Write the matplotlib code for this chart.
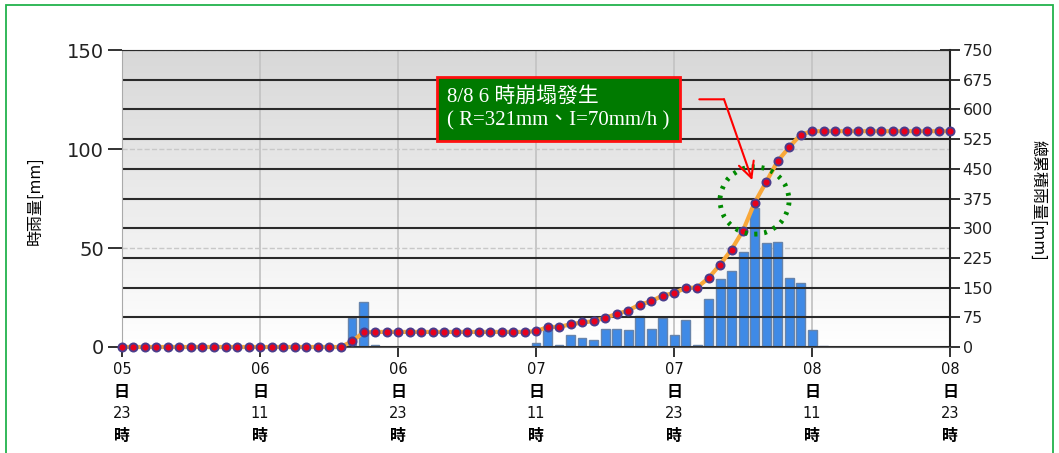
import numpy as np
import matplotlib
matplotlib.use('Agg')
import matplotlib.pyplot as plt
from matplotlib.patches import Ellipse, Rectangle
from matplotlib.colors import LinearSegmentedColormap

# hour index 0 = 05日 23時, one value per hour up to 08日 23時
hours = list(range(73))
hourly_rain = ([0] * 20 + [14.5, 22.6, 1.2] + [0] * 13 +
               [2.2, 9.4, 1.0, 6.0, 4.4, 3.5, 9.3, 9.3, 8.6, 15.8, 9.3, 14.4, 6.0,
                13.5, 1.0, 24.4, 34.2, 38.4, 48.1, 70.0, 52.4, 53.2, 35.0, 32.5, 8.6, 0.5] +
               [0] * 11)
cum_rain = ([0] * 20 + [14, 37] + [38] * 14 +
            [40, 50, 51, 57, 62, 65, 74, 83, 92, 107, 115, 130, 136, 149, 150, 174,
             208, 246, 294, 364, 416, 469, 504, 536, 545] +
            [545] * 12)

tick_hours = [0, 12, 24, 36, 48, 60, 72]
tick_days = ['05', '06', '06', '07', '07', '08', '08']
tick_hrs = ['23', '11', '23', '11', '23', '11', '23']

note_lines = '8/8 6 時崩塌發生\n( R=321mm、I=70mm/h )'

plt.rcParams['font.family'] = ['DejaVu Sans', 'Noto Sans CJK TC']

fig = plt.figure(figsize=(10.59, 4.53), dpi=100)
ax = fig.add_axes([0.1152, 0.234, 0.7819, 0.6556])
ax2 = ax.twinx()

# gradient background
bg = LinearSegmentedColormap.from_list('bg', ['#ffffff', '#d8d8d8'])
grad = np.linspace(0, 1, 256).reshape(-1, 1)
ax.imshow(grad, extent=[0, 1, 0, 1], transform=ax.transAxes, cmap=bg,
          origin='lower', aspect='auto', zorder=0)

# hourly bars
ax.bar(hours, hourly_rain, width=0.78, color='#3f8ae6', edgecolor='#6784ab',
       linewidth=1, zorder=2)

ax.set_xlim(0, 72)
ax.set_ylim(0, 150)
ax.set_yticks([0, 50, 100, 150])
ax.set_xticks(tick_hours)
ax.set_axisbelow(True)
ax.yaxis.grid(True, color='#c8c8c8', linestyle='--', linewidth=1)
ax.xaxis.grid(True, color='#c4c4c4', linewidth=1.3)
ax.tick_params(axis='y', direction='out', length=10, width=1.3, colors='#222222',
               labelsize=14, pad=3)
ax.tick_params(axis='x', direction='out', length=7, width=1.3, color='#222222',
               labelbottom=False)
for s in ax.spines.values():
    s.set_visible(False)

# cumulative line
ax2.set_ylim(0, 750)
ax2.set_yticks(range(0, 751, 75))
ax2.set_axisbelow(True)
ax2.yaxis.grid(True, color='#2a2a2a', linewidth=1.5)
ax2.plot(hours, cum_rain, color='#f9a83a', linewidth=3, marker='o', markersize=5.8,
         markerfacecolor='#e8001c', markeredgecolor='#4b3d8c', markeredgewidth=1.4,
         zorder=3, clip_on=False)
ax2.tick_params(axis='y', direction='inout', length=14, width=1.3, colors='#222222',
                labelsize=11.5, pad=2)
ax2.spines['left'].set_color('#aaaaaa')
ax2.spines['right'].set_color('#222222')
ax2.spines['right'].set_linewidth(1.5)
ax2.spines['top'].set_color('#2a2a2a')
ax2.spines['bottom'].set_color('#555555')

# x tick labels (day / hour, bold units)
for t, d, h in zip(tick_hours, tick_days, tick_hrs):
    kw = dict(xycoords=('data', 'axes fraction'), textcoords='offset points',
              ha='center', va='center', annotation_clip=False)
    ax.annotate(d, (t, 0), xytext=(0, -16.5), fontsize=10.5, color='#111111', **kw)
    ax.annotate('日', (t, 0), xytext=(0, -32.4), fontsize=11.5, fontweight='bold',
                family='Noto Sans CJK TC', **kw)
    ax.annotate(h, (t, 0), xytext=(0, -48.2), fontsize=10.5, color='#111111', **kw)
    ax.annotate('時', (t, 0), xytext=(0, -64), fontsize=11.5, fontweight='bold',
                family='Noto Sans CJK TC', **kw)

fig.text(0.033, 0.558, '時雨量[mm]', rotation=90, ha='center', va='center',
         fontsize=11.5, family=['Noto Sans CJK TC'])
fig.text(0.980, 0.558, '總累積雨量[mm]', rotation=-90, ha='center', va='center',
         fontsize=11.5, family=['Noto Sans CJK TC'])

# annotation box, arrow and dotted circle
ax2.text(28.3, 602, note_lines, ha='left', va='center', color='white', fontsize=15,
         family=['Liberation Serif', 'Noto Sans CJK TC'], linespacing=1.3, zorder=6,
         bbox=dict(boxstyle='square,pad=0.5', fc='#007a00', ec='#ff1010', lw=2))
ax2.annotate('', xy=(52.35, 625.5), xytext=(50.2, 625.5),
             arrowprops=dict(arrowstyle='-', color='red', lw=1.5, shrinkA=0, shrinkB=0),
             zorder=6)
ax2.annotate('', xy=(54.8, 421.5), xytext=(52.35, 625.5),
             arrowprops=dict(arrowstyle='->', color='red', lw=1.5, shrinkA=0, shrinkB=0,
                             mutation_scale=28), zorder=6)
ax2.add_patch(Ellipse((55.0, 370), width=6.0, height=170, fill=False, ec='#008a00',
                      linestyle=(0, (0.6, 1.4)), linewidth=3.5, zorder=5))

# green frame around figure
fig.patches.append(Rectangle((0.0057, -0.05), 0.9886, 1.039, transform=fig.transFigure,
                             fill=False, ec='#22b24c', lw=1.3))

fig.savefig('out.png', dpi=100)
